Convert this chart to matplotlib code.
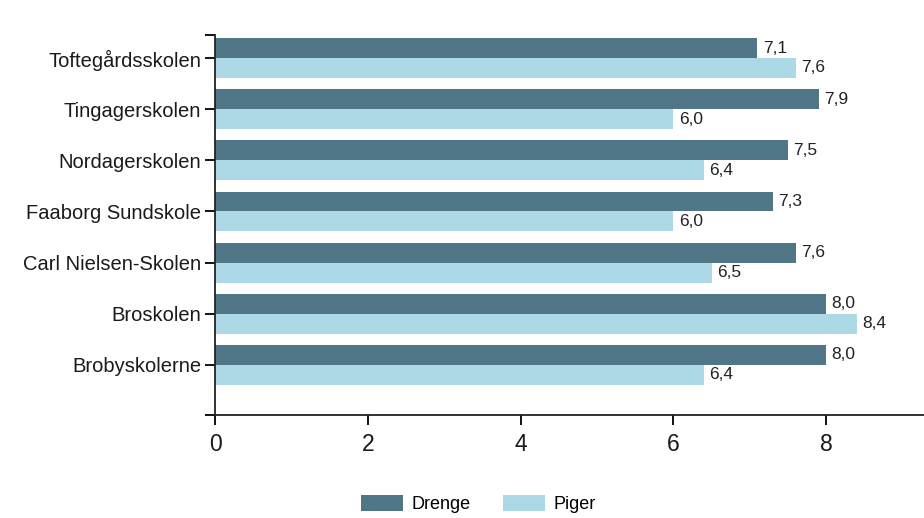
import matplotlib
matplotlib.use("Agg")
import matplotlib.pyplot as plt
import numpy as np

plt.rcParams['font.family'] = ['Liberation Sans', 'DejaVu Sans']

categories = ["Toftegårdsskolen", "Tingagerskolen", "Nordagerskolen", "Faaborg Sundskole",
              "Carl Nielsen-Skolen", "Broskolen", "Brobyskolerne"]
drenge = [7.1, 7.9, 7.5, 7.3, 7.6, 8.0, 8.0]
piger = [7.6, 6.0, 6.4, 6.0, 6.5, 8.4, 6.4]
series_names = ["Drenge", "Piger"]
xticks = [0, 2, 4, 6, 8]

c_dark = "#517688"
c_light = "#ADD8E6"

fig = plt.figure(figsize=(9.24, 5.18), dpi=100)
ax = fig.add_axes([215/924, 103/518, 1 - 215/924, (415-35)/518])

y = np.arange(len(categories))
h = 0.39
b1 = ax.barh(y - h/2, drenge, height=h, color=c_dark, label=series_names[0])
b2 = ax.barh(y + h/2, piger, height=h, color=c_light, label=series_names[1])

def fmt(v):
    return f"{v:.1f}".replace(".", ",")

for bars, vals in ((b1, drenge), (b2, piger)):
    for rect, v in zip(bars, vals):
        ax.text(rect.get_width() + 0.07, rect.get_y() + rect.get_height()/2, fmt(v),
                va='center', ha='left', fontsize=12.5, color='#222222')

ax.set_ylim(len(categories) - 1 + 0.98, -0.45)
ax.set_xlim(0, 9.28)
ax.set_yticks(y)
ax.set_yticklabels(categories, fontsize=14.5, color='#1a1a1a')
ax.set_yticks([-0.45, len(categories) - 1 + 0.98], minor=True)
ax.set_xticks(xticks)
ax.set_xticklabels([str(t) for t in xticks], fontsize=16.5, color='#1a1a1a')
ax.tick_params(axis='y', which='both', length=7, width=1.3, pad=3)
ax.tick_params(axis='x', length=7, width=1.3, pad=6)
for s in ['top', 'right']:
    ax.spines[s].set_visible(False)
for s in ['left', 'bottom']:
    ax.spines[s].set_linewidth(1.3)
    ax.spines[s].set_color('#222222')

fig.legend(handles=[b1, b2], labels=series_names, loc='center', bbox_to_anchor=(0.518, 0.027),
           ncol=2, frameon=False, fontsize=13, handlelength=2.3, handleheight=1.0,
           columnspacing=1.8, handletextpad=0.5)

fig.savefig("out.png", dpi=100)
